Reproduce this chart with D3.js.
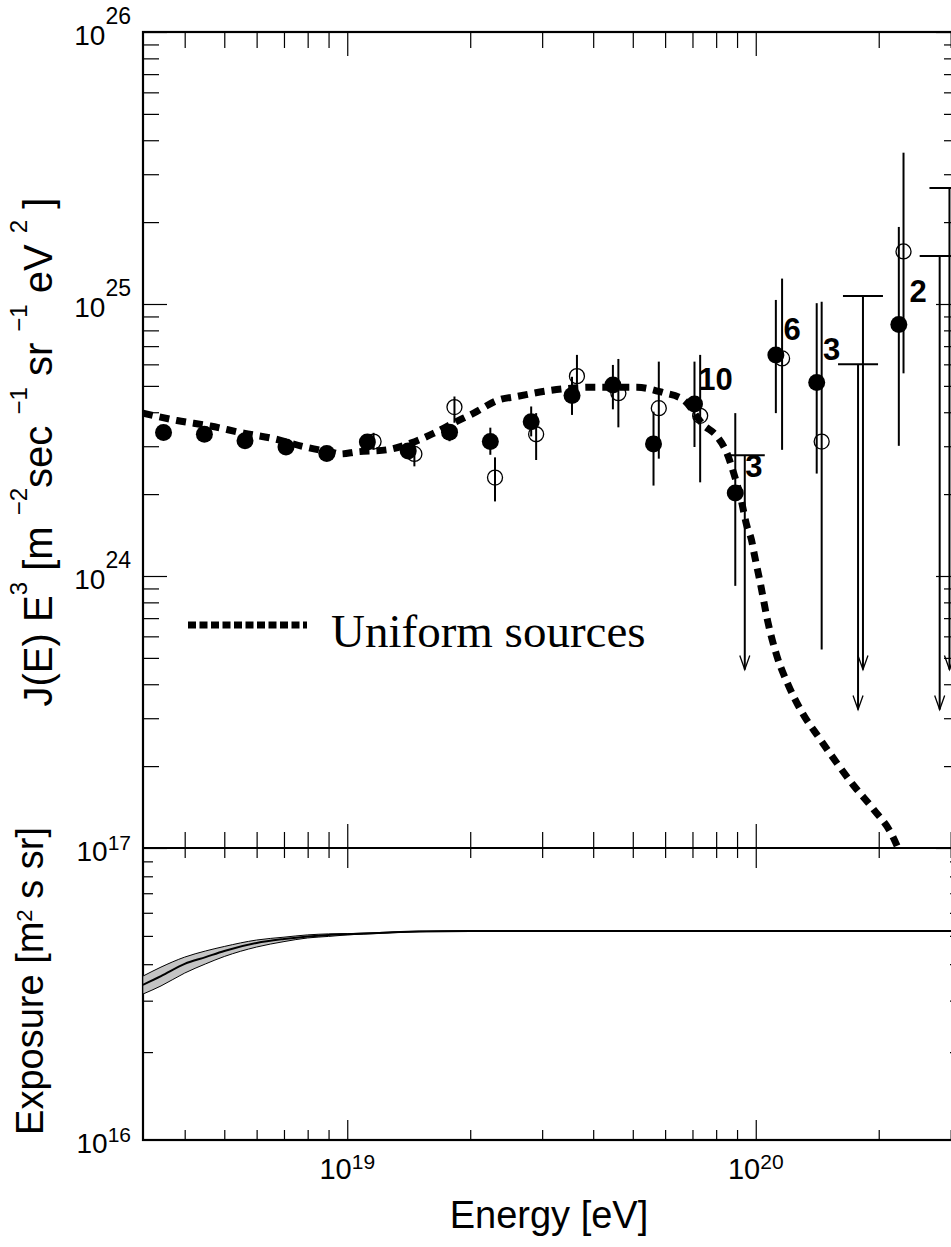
<!DOCTYPE html>
<html>
<head>
<meta charset="utf-8">
<script src="https://cdn.jsdelivr.net/npm/d3@7"></script>
<style>
  body { margin: 0; background: #fff; }
  svg { display: block; font-family: "Liberation Sans", Arial, sans-serif; }
  text { white-space: pre; }
</style>
</head>
<body>
<div id="chart"></div>
<script>
// ---- data ----
// filled circles (energy eV, J E^3, error high / low)
var filledE  = [3.55e18, 4.47e18, 5.62e18, 7.08e18, 8.91e18, 1.12e19, 1.41e19, 1.78e19, 2.24e19, 2.82e19, 3.55e19, 4.47e19, 5.62e19, 7.08e19, 8.91e19, 1.12e20, 1.41e20, 2.24e20];
var filledJ  = [3.37e24, 3.32e24, 3.14e24, 2.98e24, 2.82e24, 3.11e24, 2.88e24, 3.38e24, 3.12e24, 3.69e24, 4.61e24, 5.04e24, 3.06e24, 4.29e24, 2.02e24, 6.5e24, 5.15e24, 8.41e24];
var filledHi = [null, null, null, null, null, null, null, 3.55e24, 3.51e24, 4.2e24, 5.4e24, 5.97e24, 4.02e24, 6.14e24, 3.97e24, 1.035e25, 1.007e25, 1.92e25];
var filledLo = [null, null, null, null, null, null, null, 3.13e24, 2.79e24, 3.26e24, 3.91e24, 4.1e24, 2.15e24, 2.98e24, 9.2e23, 3.97e24, 2.38e24, 3.01e24];
var filledLimE = [1.78e20, 2.82e20];
var filledLimJ = [6.0e24, 1.5e25];
var filledArrowEnd = 3.23e23;

// open circles
var openE  = [1.16e19, 1.46e19, 1.83e19, 2.3e19, 2.9e19, 3.65e19, 4.61e19, 5.79e19, 7.31e19, 1.16e20, 1.45e20, 2.3e20];
var openJ  = [3.12e24, 2.81e24, 4.18e24, 2.3e24, 3.32e24, 5.43e24, 4.7e24, 4.14e24, 3.88e24, 6.31e24, 3.12e24, 1.56e25];
var openHi = [3.36e24, 3.16e24, 4.57e24, 2.73e24, 3.97e24, 6.5e24, 6.28e24, 6.14e24, 6.5e24, 1.24e25, 1.02e25, 3.6e25];
var openLo = [2.92e24, 2.53e24, 3.66e24, 1.88e24, 2.67e24, 5.05e24, 3.52e24, 2.7e24, 2.21e24, 2.91e24, 5.37e23, 5.56e24];
var openLimE = [9.4e19, 1.83e20, 2.98e20];
var openLimJ = [2.78e24, 1.07e25, 2.67e25];
var openArrowEnd = 4.53e23;

// event count labels
var countText = ["10", "3", "6", "3", "2"];
var countE    = [7.23e19, 9.42e19, 1.17e20, 1.46e20, 2.38e20];
var countJ    = [4.83e24, 2.32e24, 7.38e24, 6.22e24, 1.02e25];

// uniform sources model
var uniformE = [3.16e18, 3.83e18, 4.62e18, 5.58e18, 6.6e18, 7.82e18, 9.26e18, 9.62e18, 1.056e19, 1.25e19, 1.43e19, 1.63e19, 1.82e19, 2.04e19, 2.35e19, 2.6e19, 3.14e19, 3.94e19, 5.12e19, 5.94e19, 6.66e19, 7.45e19, 8.04e19, 8.5e19, 8.83e19, 9.17e19, 9.52e19, 9.76e19, 9.92e19, 1.026e20, 1.07e20, 1.127e20, 1.2e20, 1.3e20, 1.43e20, 1.57e20, 1.74e20, 1.94e20, 2.16e20, 2.23e20];
var uniformJ = [3.97e24, 3.73e24, 3.56e24, 3.35e24, 3.2e24, 2.99e24, 2.84e24, 2.81e24, 2.86e24, 2.91e24, 3.08e24, 3.35e24, 3.65e24, 3.97e24, 4.44e24, 4.57e24, 4.81e24, 4.94e24, 4.94e24, 4.72e24, 4.44e24, 3.59e24, 3.26e24, 2.83e24, 2.39e24, 1.96e24, 1.52e24, 1.36e24, 1.2e24, 9.42e23, 6.81e23, 5.07e23, 3.99e23, 3.14e23, 2.54e23, 2.08e23, 1.69e23, 1.39e23, 1.11e23, 1.0e23];

// exposure (lower panel)
var expoE   = [3.16e18, 3.5e18, 4e18, 4.5e18, 5e18, 6e18, 7e18, 8e18, 9e18, 1e19, 1.2e19, 1.5e19, 2e19, 3.2e20];
var expoMid = [3.40e16, 3.64e16, 4.01e16, 4.23e16, 4.44e16, 4.73e16, 4.88e16, 4.98e16, 5.04e16, 5.07e16, 5.12e16, 5.18e16, 5.2e16, 5.2e16];
var expoHi  = [3.64e16, 3.91e16, 4.23e16, 4.44e16, 4.60e16, 4.84e16, 4.95e16, 5.04e16, 5.08e16, 5.09e16, 5.13e16, 5.19e16, 5.2e16, 5.2e16];
var expoLo  = [3.16e16, 3.37e16, 3.73e16, 4.01e16, 4.25e16, 4.58e16, 4.78e16, 4.92e16, 4.98e16, 5.04e16, 5.10e16, 5.17e16, 5.2e16, 5.2e16];

// ticks
var xMajor = [1e19, 1e20];
var xMinor = [4e18, 5e18, 6e18, 7e18, 8e18, 9e18, 2e19, 3e19, 4e19, 5e19, 6e19, 7e19, 8e19, 9e19, 2e20, 3e20];
var yTopMajor = [1e23, 1e24, 1e25, 1e26];
var yTopMinor = [2e23, 3e23, 4e23, 5e23, 6e23, 7e23, 8e23, 9e23, 2e24, 3e24, 4e24, 5e24, 6e24, 7e24, 8e24, 9e24, 2e25, 3e25, 4e25, 5e25, 6e25, 7e25, 8e25, 9e25];
var yBotMinor = [2e16, 3e16, 4e16, 5e16, 6e16, 7e16, 8e16, 9e16];
var xLabelExp = [19, 20];
var yTopLabelExp = [26, 25, 24];
var yBotLabelExp = [17, 16];

// ---- layout ----
var W = 951, H = 1247;
var pLeft = 143, pRight = 960, pTop = 32, pMid = 848, pBottom = 1140;

var svg = d3.select("#chart").append("svg")
  .attr("width", W)
  .attr("height", H);

var x = d3.scaleLog().domain([Math.pow(10, 18.5), Math.pow(10, 20.5)]).range([pLeft, pRight]);
var yTop = d3.scaleLog().domain([1e23, 1e26]).range([pMid, pTop]);
var yBot = d3.scaleLog().domain([1e16, 1e17]).range([pBottom, pMid]);

svg.append("clipPath").attr("id", "clipTop")
  .append("rect").attr("x", pLeft).attr("y", pTop).attr("width", pRight - pLeft).attr("height", pMid - pTop);
svg.append("clipPath").attr("id", "clipBot")
  .append("rect").attr("x", pLeft).attr("y", pMid).attr("width", pRight - pLeft).attr("height", pBottom - pMid);

// tick helper: inward ticks, no domain, no text
function ticks(tx, ty, axis, vals, size) {
  var g = svg.append("g").attr("transform", "translate(" + tx + "," + ty + ")");
  g.call(axis.tickValues(vals).tickSize(size).tickSizeOuter(0).tickFormat(""));
  g.select(".domain").remove();
  g.selectAll(".tick line").attr("stroke", "#000").attr("stroke-width", 1.2);
  g.selectAll(".tick text").remove();
}

// top panel ticks
ticks(0, pMid, d3.axisBottom(x), xMajor, -24);
ticks(0, pMid, d3.axisBottom(x), xMinor, -16);
ticks(0, pTop, d3.axisTop(x), xMajor, -24);
ticks(0, pTop, d3.axisTop(x), xMinor, -16);
ticks(pLeft, 0, d3.axisLeft(yTop), yTopMajor, -24);
ticks(pLeft, 0, d3.axisLeft(yTop), yTopMinor, -16);
ticks(pRight, 0, d3.axisRight(yTop), yTopMajor, -24);
ticks(pRight, 0, d3.axisRight(yTop), yTopMinor, -16);
// bottom panel ticks
ticks(0, pMid, d3.axisTop(x), xMajor, -20);
ticks(0, pMid, d3.axisTop(x), xMinor, -10);
ticks(0, pBottom, d3.axisBottom(x), xMajor, -20);
ticks(0, pBottom, d3.axisBottom(x), xMinor, -10);
ticks(pLeft, 0, d3.axisLeft(yBot), yBotMinor, -10);
ticks(pRight, 0, d3.axisRight(yBot), yBotMinor, -10);

// frame
var frame = svg.append("g").attr("stroke", "#000").attr("stroke-width", 2.2).attr("fill", "none");
frame.append("rect").attr("x", pLeft).attr("y", pTop).attr("width", pRight - pLeft).attr("height", pBottom - pTop);
frame.append("line").attr("x1", pLeft).attr("x2", pRight).attr("y1", pMid).attr("y2", pMid);

// tick labels
svg.selectAll(".xlab").data(xLabelExp).enter().append("text")
  .attr("class", "xlab")
  .attr("x", function(d) { return x(Math.pow(10, d)); })
  .attr("y", pBottom + 39)
  .attr("text-anchor", "middle")
  .attr("font-size", 29)
  .each(function(d) {
    var t = d3.select(this);
    t.append("tspan").text("10");
    t.append("tspan").attr("font-size", 21).attr("dy", -10).text(d);
  });

svg.selectAll(".ytlab").data(yTopLabelExp).enter().append("text")
  .attr("class", "ytlab")
  .attr("x", 131)
  .attr("y", function(d) { return yTop(Math.pow(10, d)) + 13; })
  .attr("text-anchor", "end")
  .attr("font-size", 28)
  .each(function(d) {
    var t = d3.select(this);
    t.append("tspan").text("10");
    t.append("tspan").attr("font-size", 23).attr("dy", -21).text(d);
  });

svg.selectAll(".yblab").data(yBotLabelExp).enter().append("text")
  .attr("class", "yblab")
  .attr("x", 131)
  .attr("y", function(d) { return yBot(Math.pow(10, d)) + 13; })
  .attr("text-anchor", "end")
  .attr("font-size", 28)
  .each(function(d) {
    var t = d3.select(this);
    t.append("tspan").text("10");
    t.append("tspan").attr("font-size", 21).attr("dy", -11).text(d);
  });

// axis titles
svg.append("text")
  .attr("x", 549).attr("y", 1228)
  .attr("text-anchor", "middle")
  .attr("font-size", 38)
  .text("Energy [eV]");

var jt = svg.append("text")
  .attr("transform", "translate(52," + 452 + ") rotate(-90)")
  .attr("text-anchor", "middle")
  .attr("font-size", 40);
[["J(E) E", 0], ["3", 1], [" [m ", 0], ["\u22122", 1], ["sec ", 0], ["\u22121", 1], [" sr ", 0], ["\u22121", 1], [" eV ", 0], ["2", 1], [" ]", 0]]
  .forEach(function(p, i, arr) {
    var prevSup = i > 0 && arr[i - 1][1] === 1;
    var ts = jt.append("tspan").text(p[0]);
    if (p[1] === 1) ts.attr("font-size", 24).attr("dy", -25);
    else if (prevSup) ts.attr("dy", 25);
  });

var et = svg.append("text")
  .attr("transform", "translate(43," + 981 + ") rotate(-90)")
  .attr("text-anchor", "middle")
  .attr("font-size", 38);
et.append("tspan").text("Exposure [m");
et.append("tspan").attr("font-size", 22).attr("dy", -11).text("2");
et.append("tspan").attr("dy", 11).text(" s sr]");

// ---- top panel contents ----
var gTop = svg.append("g").attr("clip-path", "url(#clipTop)");

var uniform = uniformE.map(function(e, i) { return [e, uniformJ[i]]; });
gTop.append("path")
  .datum(uniform)
  .attr("fill", "none")
  .attr("stroke", "#000")
  .attr("stroke-width", 7)
  .attr("stroke-dasharray", "10,7")
  .attr("d", d3.line()
    .x(function(d) { return x(d[0]); })
    .y(function(d) { return yTop(d[1]); })
    .curve(d3.curveMonotoneX));

// error bars
function errBars(E, Hi, Lo) {
  var rows = E.map(function(e, i) { return { e: e, hi: Hi[i], lo: Lo[i] }; })
    .filter(function(d) { return d.hi != null; });
  gTop.selectAll(null).data(rows).enter().append("line")
    .attr("x1", function(d) { return x(d.e); })
    .attr("x2", function(d) { return x(d.e); })
    .attr("y1", function(d) { return yTop(d.hi); })
    .attr("y2", function(d) { return yTop(d.lo); })
    .attr("stroke", "#000")
    .attr("stroke-width", 2);
}
errBars(filledE, filledHi, filledLo);
errBars(openE, openHi, openLo);

// upper limits
function upperLimits(E, J, end) {
  var rows = E.map(function(e, i) { return { e: e, j: J[i] }; });
  var g = gTop.selectAll(null).data(rows).enter().append("g")
    .attr("stroke", "#000").attr("fill", "none");
  g.append("line")
    .attr("x1", function(d) { return x(d.e); })
    .attr("x2", function(d) { return x(d.e); })
    .attr("y1", function(d) { return yTop(d.j); })
    .attr("y2", yTop(end))
    .attr("stroke-width", 2);
  g.append("line")
    .attr("x1", function(d) { return x(d.e) - 20; })
    .attr("x2", function(d) { return x(d.e) + 20; })
    .attr("y1", function(d) { return yTop(d.j); })
    .attr("y2", function(d) { return yTop(d.j); })
    .attr("stroke-width", 2);
  g.append("path")
    .attr("d", function(d) {
      var px = x(d.e), py = yTop(end);
      return "M" + (px - 5) + "," + (py - 14) + "L" + px + "," + py + "L" + (px + 5) + "," + (py - 14);
    })
    .attr("stroke-width", 1.3);
}
upperLimits(filledLimE, filledLimJ, filledArrowEnd);
upperLimits(openLimE, openLimJ, openArrowEnd);

gTop.selectAll(".open").data(openE).enter().append("circle")
  .attr("class", "open")
  .attr("cx", function(d) { return x(d); })
  .attr("cy", function(d, i) { return yTop(openJ[i]); })
  .attr("r", 7.5)
  .attr("fill", "none")
  .attr("stroke", "#000")
  .attr("stroke-width", 1.3);

gTop.selectAll(".filled").data(filledE).enter().append("circle")
  .attr("class", "filled")
  .attr("cx", function(d) { return x(d); })
  .attr("cy", function(d, i) { return yTop(filledJ[i]); })
  .attr("r", 8.5)
  .attr("fill", "#000");

gTop.selectAll(".count").data(countText).enter().append("text")
  .attr("class", "count")
  .attr("x", function(d, i) { return x(countE[i]); })
  .attr("y", function(d, i) { return yTop(countJ[i]); })
  .attr("font-size", 31)
  .attr("font-weight", "bold")
  .text(function(d) { return d; });

// legend
svg.append("line")
  .attr("x1", 188).attr("x2", 307).attr("y1", 625).attr("y2", 625)
  .attr("stroke", "#000").attr("stroke-width", 7).attr("stroke-dasharray", "8,3.5");
svg.append("text")
  .attr("x", 331).attr("y", 647)
  .attr("font-family", "'Liberation Serif', 'Times New Roman', serif")
  .attr("font-size", 47)
  .text("Uniform sources");

// ---- bottom panel: exposure ----
var gBot = svg.append("g").attr("clip-path", "url(#clipBot)");
var expo = expoE.map(function(e, i) { return { e: e, m: expoMid[i], hi: expoHi[i], lo: expoLo[i] }; });

gBot.append("path")
  .datum(expo)
  .attr("fill", "#c4c4c4")
  .attr("stroke", "#000")
  .attr("stroke-width", 1)
  .attr("d", d3.area()
    .x(function(d) { return x(d.e); })
    .y0(function(d) { return yBot(d.lo); })
    .y1(function(d) { return yBot(d.hi); })
    .curve(d3.curveMonotoneX));

gBot.append("path")
  .datum(expo)
  .attr("fill", "none")
  .attr("stroke", "#000")
  .attr("stroke-width", 2)
  .attr("d", d3.line()
    .x(function(d) { return x(d.e); })
    .y(function(d) { return yBot(d.m); })
    .curve(d3.curveMonotoneX));
</script>
</body>
</html>
